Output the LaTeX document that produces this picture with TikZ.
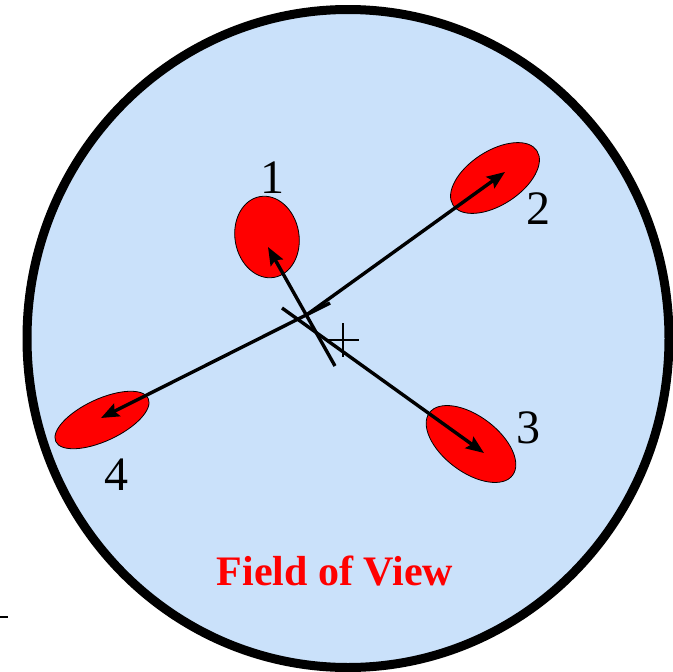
\documentclass[tikz,border=0pt]{standalone}
\usepackage{fontspec}
\setmainfont{Liberation Serif}
\usetikzlibrary{shapes.geometric,arrows.meta}
\definecolor{sky}{RGB}{202,225,250}

\begin{document}
\begin{tikzpicture}[x=1pt, y=-1pt,
  spot/.style={draw, ellipse, fill=red, line width=0.8pt, inner sep=0pt},
  vec/.style={line width=3.4pt, -{Stealth[length=18pt, width=14pt, inset=3pt]}},
  num/.style={font=\fontsize{48}{48}\selectfont}]
\useasboundingbox (0,0) rectangle (673,672);
% field of view
\draw[line width=9pt, fill=sky] (348,338.5) ellipse (321 and 329);
\draw[line width=2.5pt] (0,617) -- (8,617);
% spots
\node[spot, minimum width=82pt, minimum height=64pt, rotate=100] (e1) at (267,237) {};
\node[spot, minimum width=100pt, minimum height=54pt, rotate=33] (e2) at (495,178) {};
\node[spot, minimum width=104pt, minimum height=56pt, rotate=-37] (e3) at (471,444) {};
\node[spot, minimum width=102pt, minimum height=42pt, rotate=25] (e4) at (102,420) {};
% start and end points of the vectors
\coordinate (o1) at (335,366); \coordinate (t1) at (268,247);
\coordinate (o2) at (305,316); \coordinate (t2) at (505,172);
\coordinate (o3) at (282,308); \coordinate (t3) at (484,453);
\coordinate (o4) at (330,303); \coordinate (t4) at (101,418);
\draw[vec] (o1) -- (t1);
\draw[vec] (o2) -- (t2);
\draw[vec] (o3) -- (t3);
\draw[vec] (o4) -- (t4);
% centre mark
\coordinate (c) at (343,340);
\draw[line width=2.8pt] (c) ++(0,-17) -- ++(0,34) (c) ++(-17,0) -- ++(33,0);
% labels
\node[num] (n1) at (272,178) {1};
\node[num] (n2) at (538,209) {2};
\node[num] (n3) at (528,428) {3};
\node[num] (n4) at (116,475) {4};
\node[text=red, font=\bfseries\fontsize{42}{42}\selectfont, anchor=base] (fov) at (335,585) {Field of View};
\end{tikzpicture}
\end{document}
